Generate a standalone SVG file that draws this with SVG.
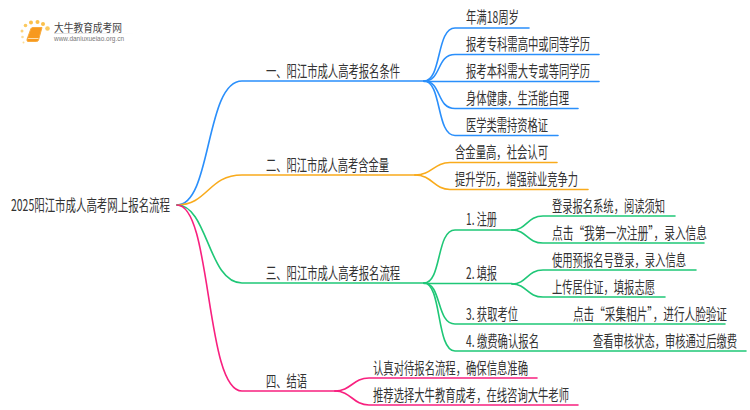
<svg xmlns="http://www.w3.org/2000/svg" width="750" height="410" viewBox="0 0 750 410">
<style>
text{font-family:"Noto Sans CJK SC","Liberation Sans",sans-serif;fill:#333;font-size:15.500px}
path{fill:none;stroke-width:1.600;stroke-linecap:round}
.b{stroke:#2a8ffb}.o{stroke:#f9ab1c}.g{stroke:#1fc777}.p{stroke:#f8207f}
</style>
<defs><linearGradient id="fade"><stop offset="0" stop-color="#ddd"/><stop offset="1" stop-color="#fff"/></linearGradient></defs>
<rect width="750" height="410" fill="#fff"/>
<g id="logo">
<circle cx="22" cy="31" r="1.500" fill="#fbd27a"/><circle cx="25.500" cy="25.500" r="1.800" fill="#fbc95f"/><circle cx="31" cy="22.500" r="2" fill="#fbc04a"/><circle cx="37.500" cy="22" r="2" fill="#fbc04a"/><circle cx="43" cy="24" r="2" fill="#fbc04a"/><circle cx="47.500" cy="28.500" r="2.300" fill="#fbc95f"/><circle cx="22.500" cy="37" r="1.300" fill="#fcdc96"/><circle cx="23.500" cy="42.500" r="1" fill="#fcdc96"/>
<path d="M31 28.500Q31.500 27.500 33 27.500H42L38.500 40Q38 41.500 36.500 41.500H28Q26.500 41.500 27 39.500Z" style="fill:#f7991e;stroke:#f8ab3e;stroke-width:1"/>
<path d="M28.500 38.500H38" style="stroke:#fde0ae;stroke-width:1"/>
<rect x="54" y="33" width="80" height="1" fill="url(#fade)"/>
<text x="54" y="31.500" textLength="68" lengthAdjust="spacingAndGlyphs" style="font-size:11px;fill:#444">大牛教育成考网</text>
<text x="54" y="41" textLength="70" lengthAdjust="spacingAndGlyphs" style="font-size:6.500px;fill:#777;font-family:'Liberation Sans',sans-serif">www.daniuxueiao.org.cn</text>
</g>
<g id="connectors">
<path class="b" d="M177 205C212 205 205 81 242 81H424"/>
<path class="o" d="M177 205C208 205 208 175 242 175H415"/>
<path class="g" d="M177 205C208 205 208 283 242 283H424"/>
<path class="p" d="M177 205C212 205 205 391 242 391H335"/>
<path class="b" d="M424 81C442 81 436 28 455 28H529"/>
<path class="b" d="M424 81C442 81 436 54.500 455 54.500H599"/>
<path class="b" d="M424 81.500H599"/>
<path class="b" d="M424 81C442 81 436 108.500 455 108.500H578"/>
<path class="b" d="M424 81C442 81 436 135.500 455 135.500H558"/>
<path class="o" d="M415 175C432 175 434 162.500 450 162.500H557"/>
<path class="o" d="M415 175C432 175 434 189.500 450 189.500H588"/>
<path class="g" d="M424 283C442 283 436 230 455 230H512"/>
<path class="g" d="M424 283.500H512"/>
<path class="g" d="M424 283C442 283 436 324 455 324H725"/>
<path class="g" d="M424 283C442 283 436 351 455 351H746"/>
<path class="g" d="M512 230C527 230 527 216 543 216H675"/>
<path class="g" d="M512 230C527 230 527 243 543 243H704"/>
<path class="g" d="M512 284C527 284 527 270 543 270H696"/>
<path class="g" d="M512 284C527 284 527 297 543 297H665"/>
<path class="p" d="M335 391C351 391 353 378 369 378H537"/>
<path class="p" d="M335 391C351 391 353 405 369 405H578"/>
</g>
<g id="root"><text x="11" y="210.500" textLength="159" lengthAdjust="spacingAndGlyphs">2025阳江市成人高考网上报名流程</text></g>
<g id="n1"><text x="266" y="77" textLength="134" lengthAdjust="spacingAndGlyphs">一、阳江市成人高考报名条件</text></g>
<g id="n2"><text x="266" y="171" textLength="123" lengthAdjust="spacingAndGlyphs">二、阳江市成人高考含金量</text></g>
<g id="n3"><text x="266" y="279" textLength="134" lengthAdjust="spacingAndGlyphs">三、阳江市成人高考报名流程</text></g>
<g id="n4"><text x="266" y="387" textLength="41" lengthAdjust="spacingAndGlyphs">四、结语</text></g>
<g id="n1-1"><text x="466" y="22.500" textLength="53" lengthAdjust="spacingAndGlyphs">年满18周岁</text></g>
<g id="n1-2"><text x="466" y="49.500" textLength="124" lengthAdjust="spacingAndGlyphs">报考专科需高中或同等学历</text></g>
<g id="n1-3"><text x="466" y="76.500" textLength="124" lengthAdjust="spacingAndGlyphs">报考本科需大专或等同学历</text></g>
<g id="n1-4"><text x="466" y="103.500" textLength="103" lengthAdjust="spacingAndGlyphs">身体健康，生活能自理</text></g>
<g id="n1-5"><text x="466" y="130.500" textLength="82" lengthAdjust="spacingAndGlyphs">医学类需持资格证</text></g>
<g id="n2-1"><text x="455" y="158" textLength="93" lengthAdjust="spacingAndGlyphs">含金量高，社会认可</text></g>
<g id="n2-2"><text x="455" y="185" textLength="123" lengthAdjust="spacingAndGlyphs">提升学历，增强就业竞争力</text></g>
<g id="n3-1"><text x="466" y="224.500" textLength="31" lengthAdjust="spacingAndGlyphs">1. 注册</text></g>
<g id="n3-2"><text x="466" y="278.500" textLength="31" lengthAdjust="spacingAndGlyphs">2. 填报</text></g>
<g id="n3-3"><text x="466" y="319.500" textLength="52" lengthAdjust="spacingAndGlyphs">3. 获取考位</text></g>
<g id="n3-4"><text x="466" y="346.500" textLength="73" lengthAdjust="spacingAndGlyphs">4. 缴费确认报名</text></g>
<g id="n3-1-1"><text x="552" y="211.500" textLength="113" lengthAdjust="spacingAndGlyphs">登录报名系统，阅读须知</text></g>
<g id="n3-1-2"><text x="552" y="238.500" textLength="155" lengthAdjust="spacingAndGlyphs">点击“我第一次注册”，录入信息</text></g>
<g id="n3-2-1"><text x="552" y="265.500" textLength="134" lengthAdjust="spacingAndGlyphs">使用预报名号登录，录入信息</text></g>
<g id="n3-2-2"><text x="552" y="292.500" textLength="103" lengthAdjust="spacingAndGlyphs">上传居住证，填报志愿</text></g>
<g id="n3-3-1"><text x="573" y="319.500" textLength="154" lengthAdjust="spacingAndGlyphs">点击“采集相片”，进行人脸验证</text></g>
<g id="n3-4-1"><text x="593" y="346.500" textLength="144" lengthAdjust="spacingAndGlyphs">查看审核状态，审核通过后缴费</text></g>
<g id="n4-1"><text x="373" y="373.500" textLength="155" lengthAdjust="spacingAndGlyphs">认真对待报名流程，确保信息准确</text></g>
<g id="n4-2"><text x="373" y="400.500" textLength="196" lengthAdjust="spacingAndGlyphs">推荐选择大牛教育成考，在线咨询大牛老师</text></g>
</svg>
